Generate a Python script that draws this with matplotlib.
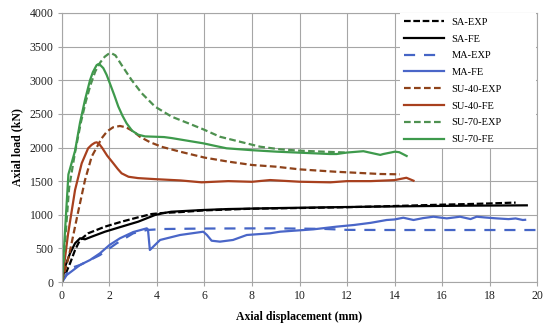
import matplotlib.pyplot as plt

# ---- data (x: mm, y: kN) ----
sa_exp_x = [0, 0.13, 0.34, 0.55, 0.76, 1.1, 1.81, 2.51, 3.21, 3.78, 4.2, 5.0, 6.0, 8.0, 10.0, 12.0, 14.0, 16.0, 17.2, 18.0, 19.0, 19.1]
sa_exp_y = [0, 104, 278, 476, 625, 724, 823, 897, 962, 1011, 1025, 1040, 1065, 1090, 1100, 1112, 1130, 1150, 1160, 1168, 1180, 1180]

sa_fe_x = [0, 0.13, 0.34, 0.55, 0.76, 0.97, 1.25, 1.81, 2.51, 3.21, 3.92, 4.1, 4.2, 4.6, 5.9, 7.0, 9.2, 11.0, 13.0, 15.0, 17.0, 19.57]
sa_fe_y = [0, 228, 427, 575, 650, 635, 674, 748, 823, 897, 997, 1010, 1020, 1045, 1070, 1085, 1100, 1110, 1120, 1128, 1135, 1140]

ma_exp_x = [0, 0.34, 0.76, 1.6, 2.3, 3.0, 3.57, 4.27, 6.0, 8.9, 11.0, 12.0, 14.0, 16.0, 18.0, 20.0]
ma_exp_y = [0, 203, 253, 401, 575, 724, 773, 788, 795, 798, 790, 775, 773, 773, 773, 773]

ma_fe_x = [0, 0.2, 0.76, 1.18, 1.6, 2.0, 2.44, 3.0, 3.57, 3.62, 3.7, 4.13, 4.97, 5.95, 6.1, 6.3, 6.65, 7.2, 7.78, 8.76, 9.18, 10.58, 11.56, 12.3,
           13.0, 13.67, 14.0, 14.37, 14.8, 15.2, 15.64, 16.2, 16.76, 17.2, 17.46, 17.8, 18.3, 18.8, 19.1, 19.4, 19.5]
ma_fe_y = [0, 104, 253, 327, 427, 550, 650, 743, 798, 780, 476, 625, 699, 748, 700, 614, 600, 625, 699, 724, 748, 783, 823, 848,
           880, 922, 930, 956, 922, 950, 971, 946, 971, 936, 971, 960, 946, 935, 945, 922, 925]

su40_exp_x = [0, 0.3, 0.67, 0.97, 1.25, 1.67, 1.9, 2.15, 2.44, 2.7, 3.0, 3.28, 3.7, 4.2, 4.97, 6.0, 7.0, 8.0, 9.0, 10.0, 11.5, 13.4, 14.23]
su40_exp_y = [0, 400, 1026, 1517, 1864, 2137, 2240, 2300, 2320, 2300, 2240, 2160, 2080, 2010, 1938, 1850, 1790, 1740, 1715, 1675, 1640, 1606, 1601]

su40_fe_x = [0, 0.25, 0.55, 0.83, 1.1, 1.25, 1.38, 1.46, 1.55, 1.7, 1.9, 2.15, 2.35, 2.51, 2.8, 3.2, 3.9, 5.0, 5.88, 7.0, 8.0, 8.76,
             10.0, 11.3, 12.0, 13.0, 14.0, 14.5, 14.8]
su40_fe_y = [0, 700, 1368, 1765, 1988, 2040, 2070, 2077, 2060, 1990, 1880, 1770, 1680, 1616, 1565, 1545, 1530, 1510, 1482, 1500, 1490, 1516,
             1491, 1482, 1500, 1500, 1515, 1550, 1506]

su70_exp_x = [0, 0.3, 0.55, 0.8, 1.0, 1.2, 1.4, 1.6, 1.8, 1.95, 2.09, 2.25, 2.51, 2.93, 3.36, 3.92, 4.62, 5.32, 5.95, 6.65, 7.49, 8.34,
              9.18, 10.0, 11.0, 12.0]
su70_exp_y = [0, 1400, 1930, 2380, 2680, 2930, 3130, 3260, 3350, 3390, 3400, 3370, 3227, 3004, 2806, 2607, 2458, 2360, 2270, 2160, 2086, 2012,
              1973, 1953, 1938, 1925]

su70_fe_x = [0, 0.27, 0.55, 0.76, 0.97, 1.18, 1.3, 1.39, 1.46, 1.53, 1.6, 1.74, 1.88, 2.02, 2.2, 2.37, 2.55, 2.72, 2.95, 3.21, 3.5, 3.92,
             4.3, 4.62, 5.3, 5.95, 6.5, 6.93, 8.0, 9.04, 10.2, 11.28, 11.56, 12.0, 12.69, 13.4, 13.53, 14.02, 14.2, 14.51]
su70_fe_y = [0, 1600, 1950, 2370, 2710, 3000, 3120, 3180, 3225, 3240, 3230, 3180, 3080, 2950, 2780, 2610, 2470, 2360, 2250, 2190, 2165, 2160,
             2155, 2140, 2100, 2062, 2020, 1988, 1960, 1938, 1920, 1903, 1903, 1925, 1945, 1890, 1903, 1938, 1930, 1874]

x_ticks = list(range(0, 21, 2))
y_ticks = list(range(0, 4001, 500))

plt.rcParams['font.family'] = ['Liberation Serif', 'DejaVu Serif']

fig = plt.figure(figsize=(5.5, 3.35), dpi=100)
ax = fig.add_axes([0.1127, 0.1582, 0.8637, 0.803])

lw = 1.6
ax.plot(sa_exp_x, sa_exp_y, color='black', lw=lw, dashes=(3, 1.2), label='SA-EXP')
ax.plot(sa_fe_x, sa_fe_y, color='black', lw=lw, label='SA-FE')
ax.plot(ma_exp_x, ma_exp_y, color='#4565C6', lw=lw, dashes=(5, 4), label='MA-EXP')
ax.plot(ma_fe_x, ma_fe_y, color='#4A66C8', lw=lw, label='MA-FE')
ax.plot(su40_exp_x, su40_exp_y, color='#8E421A', lw=lw, dashes=(3, 1.5), label='SU-40-EXP')
ax.plot(su40_fe_x, su40_fe_y, color='#A8401E', lw=lw, label='SU-40-FE')
ax.plot(su70_exp_x, su70_exp_y, color='#4E9150', lw=lw, dashes=(3, 1.5), label='SU-70-EXP')
ax.plot(su70_fe_x, su70_fe_y, color='#3E9A4C', lw=lw, label='SU-70-FE')

ax.set_xlim(0, 20)
ax.set_ylim(0, 4000)
ax.set_xticks(x_ticks)
ax.set_yticks(y_ticks)
ax.grid(True, color='#a6a6a6', lw=0.8)
ax.set_axisbelow(True)
for sp in ax.spines.values():
    sp.set_color('#a6a6a6')
    sp.set_linewidth(0.8)
ax.tick_params(labelsize=8.5, length=3, color='#a6a6a6', labelcolor='#222222', pad=3)

ax.set_xlabel('Axial displacement (mm)', fontsize=8.5, fontweight='bold', labelpad=6)
ax.set_ylabel('Axial load (kN)', fontsize=8.5, fontweight='bold', labelpad=5)

# legend box: white, no frame, sits in the top right corner
leg = ax.legend(loc='upper left', bbox_to_anchor=(0.712, 0.0, 0.286, 0.999), mode='expand',
                fontsize=7.5, frameon=True, fancybox=False, framealpha=1,
                handlelength=3.85, handletextpad=0.65, labelspacing=0.72,
                borderaxespad=0.0, borderpad=0.4)
leg.get_frame().set_edgecolor('none')
leg.get_frame().set_facecolor('white')

fig.savefig('out.png', dpi=100)
